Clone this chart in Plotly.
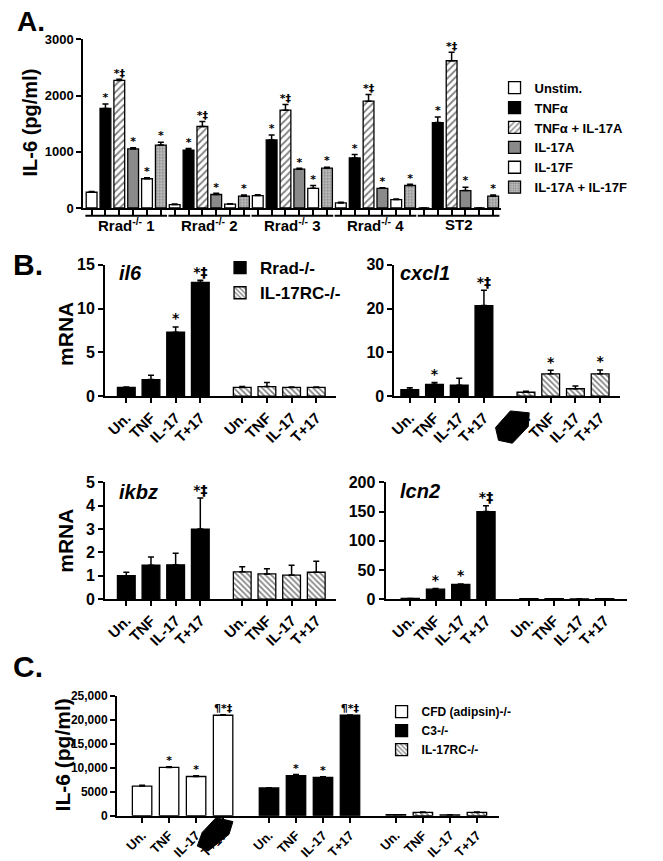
import plotly.graph_objects as go

W, H = 663, 861
def X(px): return px / W
def Y(py): return 1 - py / H

FONT = "Liberation Sans, Arial, sans-serif"
STAR_FONT = "DejaVu Sans, Liberation Sans, sans-serif"

# ---------------- Panel A data ----------------
groups_A = ["Rrad<sup>-/-</sup> 1", "Rrad<sup>-/-</sup> 2", "Rrad<sup>-/-</sup> 3",
            "Rrad<sup>-/-</sup> 4", "ST2"]
conditions_A = ["Unstim.", "TNFα", "TNFα + IL-17A", "IL-17A", "IL-17F", "IL-17A + IL-17F"]
unstim = [280, 60, 220, 90, 0]
unstim_err = [15, 10, 15, 10, 0]
tnf = [1770, 1030, 1210, 890, 1520]
tnf_err = [80, 30, 90, 60, 100]
tnf_il17a = [2270, 1450, 1740, 1900, 2620]
tnf_il17a_err = [20, 90, 100, 120, 150]
il17a = [1050, 240, 690, 350, 310]
il17a_err = [20, 20, 15, 10, 60]
il17f = [520, 70, 350, 150, 0]
il17f_err = [20, 5, 50, 10, 0]
il17a_f = [1120, 210, 710, 400, 210]
il17a_f_err = [50, 20, 15, 20, 20]
sig_unstim = ["", "", "", "", ""]
sig_tnf = ["*", "*", "*", "*", "*"]
sig_tnf_il17a = ["*‡", "*‡", "*‡", "*‡", "*‡"]
sig_il17a = ["*", "*", "*", "*", "*"]
sig_il17f = ["*", "", "*", "", ""]
sig_il17a_f = ["*", "*", "*", "*", "*"]

# ---------------- Panel B data ----------------
stim_labels = ["Un.", "TNF", "IL-17", "T+17"]
genotypes_B = ["Rrad-/-", "IL-17RC-/-"]
il6_rrad = [1.0, 1.9, 7.3, 13.0]
il6_rrad_err = [0.05, 0.5, 0.6, 0.25]
il6_rc = [1.0, 1.1, 1.0, 1.0]
il6_rc_err = [0.1, 0.45, 0.05, 0.05]
il6_sig_rrad = ["", "", "*", "*‡"]
il6_sig_rc = ["", "", "", ""]

cxcl1_rrad = [1.5, 2.7, 2.5, 20.7]
cxcl1_rrad_err = [0.4, 0.4, 1.6, 3.5]
cxcl1_rc = [0.9, 5.1, 1.7, 5.1]
cxcl1_rc_err = [0.2, 0.8, 0.6, 0.9]
cxcl1_sig_rrad = ["", "*", "", "*‡"]
cxcl1_sig_rc = ["", "*", "", "*"]

ikbz_rrad = [1.0, 1.45, 1.47, 3.0]
ikbz_rrad_err = [0.15, 0.35, 0.5, 1.33]
ikbz_rc = [1.17, 1.08, 1.03, 1.15]
ikbz_rc_err = [0.22, 0.22, 0.42, 0.47]
ikbz_sig_rrad = ["", "", "", "*‡"]
ikbz_sig_rc = ["", "", "", ""]

lcn2_rrad = [1.0, 17.0, 25.0, 150.0]
lcn2_rrad_err = [0.2, 1.0, 1.0, 10.0]
lcn2_rc = [0.6, 0.6, 0.4, 0.6]
lcn2_rc_err = [0.1, 0.1, 0.1, 0.1]
lcn2_sig_rrad = ["", "*", "*", "*‡"]
lcn2_sig_rc = ["", "", "", ""]

# ---------------- Panel C data ----------------
genotypes_C = ["CFD (adipsin)-/-", "C3-/-", "IL-17RC-/-"]
cfd = [6200, 10100, 8200, 21000]
cfd_err = [150, 150, 150, 100]
c3 = [5800, 8400, 8000, 21000]
c3_err = [60, 200, 150, 60]
rc_C = [200, 700, 150, 700]
rc_C_err = [30, 60, 30, 60]
cfd_sig = ["", "*", "*", "¶*‡"]
c3_sig = ["", "*", "*", "¶*‡"]
rc_C_sig = ["", "", "", ""]

# ---------------- styles ----------------
LINE = dict(color="black", width=1.3)
HATCH_FWD = dict(shape="/", fgcolor="black", bgcolor="white", size=5, solidity=0.35)
HATCH_BACK = dict(shape="\\", fgcolor="black", bgcolor="white", size=4, solidity=0.4)
DOTS = dict(shape=".", fgcolor="#444444", bgcolor="#c8c8c8", size=3, solidity=0.45)

fig = go.Figure()

def err(arr):
    return dict(type="data", array=arr, arrayminus=[0] * len(arr), symmetric=False,
                color="black", thickness=1.5, width=3)

def add_bars(xs, ys, es, sig, name, xa, ya, color, pattern=None, legend="legend",
             showlegend=False, width=0.72, star_size=12):
    marker = dict(color=color, line=LINE)
    if pattern is not None:
        marker["pattern"] = pattern
    fig.add_trace(go.Bar(x=xs, y=ys, error_y=err(es), name=name, marker=marker,
                         width=width, xaxis=xa, yaxis=ya, showlegend=showlegend,
                         legend=legend))
    keep = [i for i, s in enumerate(sig) if s]
    if keep:
        fig.add_trace(go.Scatter(x=[xs[i] for i in keep],
                                 y=[ys[i] + es[i] for i in keep],
                                 text=[sig[i] for i in keep],
                                 mode="text", textposition="top center",
                                 textfont=dict(family=STAR_FONT, size=star_size, color="black",
                                               weight=700),
                                 xaxis=xa, yaxis=ya, showlegend=False, cliponaxis=False,
                                 hoverinfo="skip"))

# ---- Panel A ----
series_A = [
    (unstim, unstim_err, sig_unstim, "white", None),
    (tnf, tnf_err, sig_tnf, "black", None),
    (tnf_il17a, tnf_il17a_err, sig_tnf_il17a, "white", HATCH_FWD),
    (il17a, il17a_err, sig_il17a, "#8a8a8a", None),
    (il17f, il17f_err, sig_il17f, "white", None),
    (il17a_f, il17a_f_err, sig_il17a_f, "#c8c8c8", DOTS),
]
nA = len(conditions_A)
for k, (vals, errs, sig, col, pat) in enumerate(series_A):
    xs = [g * nA + k for g in range(len(groups_A))]
    add_bars(xs, vals, errs, sig, conditions_A[k], "x", "y", col, pat,
             legend="legend", showlegend=True, width=0.78, star_size=11)

# ---- Panel B ----
pos_B = [0, 1, 2, 3, 4.7, 5.7, 6.7, 7.7]
panels_B = [
    ("x2", "y2", il6_rrad, il6_rrad_err, il6_rc, il6_rc_err, il6_sig_rrad, il6_sig_rc, True),
    ("x3", "y3", cxcl1_rrad, cxcl1_rrad_err, cxcl1_rc, cxcl1_rc_err, cxcl1_sig_rrad, cxcl1_sig_rc, False),
    ("x4", "y4", ikbz_rrad, ikbz_rrad_err, ikbz_rc, ikbz_rc_err, ikbz_sig_rrad, ikbz_sig_rc, False),
    ("x5", "y5", lcn2_rrad, lcn2_rrad_err, lcn2_rc, lcn2_rc_err, lcn2_sig_rrad, lcn2_sig_rc, False),
]
for xa, ya, r, re, c, ce, sr, sc, show in panels_B:
    add_bars(pos_B[:4], r, re, sr, genotypes_B[0], xa, ya, "black", None,
             legend="legend2", showlegend=show, star_size=14)
    add_bars(pos_B[4:], c, ce, sc, genotypes_B[1], xa, ya, "white", HATCH_BACK,
             legend="legend2", showlegend=show, star_size=14)

# ---- Panel C ----
pos_C = [0, 1, 2, 3, 4.7, 5.7, 6.7, 7.7, 9.4, 10.4, 11.4, 12.4]
add_bars(pos_C[0:4], cfd, cfd_err, cfd_sig, genotypes_C[0], "x6", "y6", "white", None,
         legend="legend3", showlegend=True, star_size=11)
add_bars(pos_C[4:8], c3, c3_err, c3_sig, genotypes_C[1], "x6", "y6", "black", None,
         legend="legend3", showlegend=True, star_size=11)
add_bars(pos_C[8:12], rc_C, rc_C_err, rc_C_sig, genotypes_C[2], "x6", "y6", "white", HATCH_BACK,
         legend="legend3", showlegend=True, star_size=11)

# ---------------- axes ----------------
def yax(anchor, dom, rng, tickvals, ticktext=None, size=13):
    d = dict(anchor=anchor, domain=[Y(dom[0]), Y(dom[1])], range=rng, tickvals=tickvals,
             showline=True, linecolor="black", linewidth=2, ticks="outside", ticklen=5,
             tickwidth=2, tickcolor="black", showgrid=False, zeroline=False,
             tickfont=dict(family=FONT, size=size, color="black", weight=700), fixedrange=True)
    if ticktext is not None:
        d["ticktext"] = ticktext
    return d

def xax(anchor, dom, rng, tickvals, ticktext=None, size=13, angle=-45):
    d = dict(anchor=anchor, domain=[X(dom[0]), X(dom[1])], range=rng, tickvals=tickvals,
             showline=True, linecolor="black", linewidth=2, ticks="outside", ticklen=5,
             tickwidth=2, tickcolor="black", showgrid=False, zeroline=False,
             tickfont=dict(family=FONT, size=size, color="black", weight=700),
             tickangle=angle, fixedrange=True)
    if ticktext is not None:
        d["ticktext"] = ticktext
        d["showticklabels"] = True
    else:
        d["showticklabels"] = False
    return d

A_BASE = 204
C_BASE = 824
nposA = len(groups_A) * nA
layout = dict(
    width=W, height=H, margin=dict(l=0, r=0, t=0, b=0),
    paper_bgcolor="white", plot_bgcolor="white", barmode="overlay",
    font=dict(family=FONT, color="black"),
    xaxis=xax("y", (78, 500), [-0.6, nposA - 0.4], list(range(nposA))),
    yaxis=yax("x", (A_BASE, 32), [0, 3000], [0, 1000, 2000, 3000], size=13),
    xaxis2=xax("y2", (100, 333), [-0.86, 8.5], pos_B, stim_labels * 2, size=15),
    yaxis2=yax("x2", (396, 262), [0, 15], [0, 5, 10, 15], size=16),
    xaxis3=xax("y3", (392, 620), [-0.62, 8.52], pos_B, stim_labels * 2, size=15),
    yaxis3=yax("x3", (396, 262), [0, 30], [0, 10, 20, 30], size=16),
    xaxis4=xax("y4", (100, 333), [-0.86, 8.5], pos_B, stim_labels * 2, size=15),
    yaxis4=yax("x4", (603, 484), [0, 5], [0, 1, 2, 3, 4, 5], size=16),
    xaxis5=xax("y5", (383, 627), [-0.98, 8.6], pos_B, stim_labels * 2, size=15),
    yaxis5=yax("x5", (603, 484), [0, 200], [0, 50, 100, 150, 200], size=16),
    xaxis6=xax("y6", (112, 497), [-0.93, 13.2], pos_C, stim_labels * 3, size=13),
    yaxis6=yax("x6", (C_BASE, 702), [0, 25000], [0, 5000, 10000, 15000, 20000, 25000],
               ["0", "5000", "10,000", "15,000", "20,000", "25,000"], size=12),
    legend=dict(x=X(493), y=Y(66), xanchor="left", yanchor="top", bgcolor="rgba(0,0,0,0)",
                font=dict(family=FONT, size=13, color="black", weight=700),
                itemwidth=30, tracegroupgap=0, traceorder="normal"),
    legend2=dict(x=X(216), y=Y(247), xanchor="left", yanchor="top", bgcolor="rgba(0,0,0,0)",
                 font=dict(family=FONT, size=17, color="black", weight=700),
                 itemwidth=30, tracegroupgap=0, traceorder="normal"),
    legend3=dict(x=X(379), y=Y(703), xanchor="left", yanchor="top", bgcolor="rgba(0,0,0,0)",
                 font=dict(family=FONT, size=12, color="black", weight=700),
                 itemwidth=30, tracegroupgap=0, traceorder="normal"),
)
fig.update_layout(**layout)

# ---------------- annotations ----------------
ann = []
def txt(x, y, t, size, angle=0, xanchor="center", yanchor="middle", style="normal"):
    ann.append(dict(x=X(x), y=Y(y), xref="paper", yref="paper", text=t, showarrow=False,
                    textangle=angle, xanchor=xanchor, yanchor=yanchor,
                    font=dict(family=FONT, size=size, color="black", weight=700, style=style)))

txt(25, 14, "A.", 28)
txt(22, 262, "B.", 30)
txt(22, 672, "C.", 30)
txt(24, 117, "IL-6 (pg/ml)", 20, angle=-90)
txt(60, 332, "mRNA", 21, angle=-90)
txt(60, 543, "mRNA", 21, angle=-90)
txt(57, 762, "IL-6 (pg/ml)", 21, angle=-90)
txt(112, 270, "il6", 20, xanchor="left", style="italic")
txt(396, 270, "cxcl1", 20, xanchor="left", style="italic")
txt(112, 494, "ikbz", 20, xanchor="left", style="italic")
txt(396, 493, "lcn2", 20, xanchor="left", style="italic")

# group labels + underlines (panel A)
shapes = []
for g, lab in enumerate(groups_A):
    x0, x1 = g * nA - 0.45, g * nA + nA - 1 + 0.45
    shapes.append(dict(type="line", xref="x", yref="paper", x0=x0, x1=x1,
                       y0=Y(A_BASE + 8), y1=Y(A_BASE + 8), line=dict(color="black", width=2)))
    ann.append(dict(x=(x0 + x1) / 2, y=Y(A_BASE + 17), xref="x", yref="paper", text=lab,
                    showarrow=False, xanchor="center", yanchor="middle",
                    font=dict(family=FONT, size=15, color="black", weight=700)))

# black blotches over two tick labels (as in the source image)
def blob(pts):
    p = "M " + " L ".join(f"{X(a):.4f},{Y(b):.4f}" for a, b in pts) + " Z"
    shapes.append(dict(type="path", xref="paper", yref="paper", path=p,
                       fillcolor="black", line=dict(color="black", width=1)))

blob([(494, 428), (509, 411), (528, 413), (527, 427), (511, 444), (497, 441)])
blob([(212, 826), (229, 830), (225, 843), (204, 860), (193, 855), (198, 841)])

fig.update_layout(annotations=ann, shapes=shapes)
fig.write_html("out.html", config={"displayModeBar": False},
               post_script="document.body.style.margin='0';")
